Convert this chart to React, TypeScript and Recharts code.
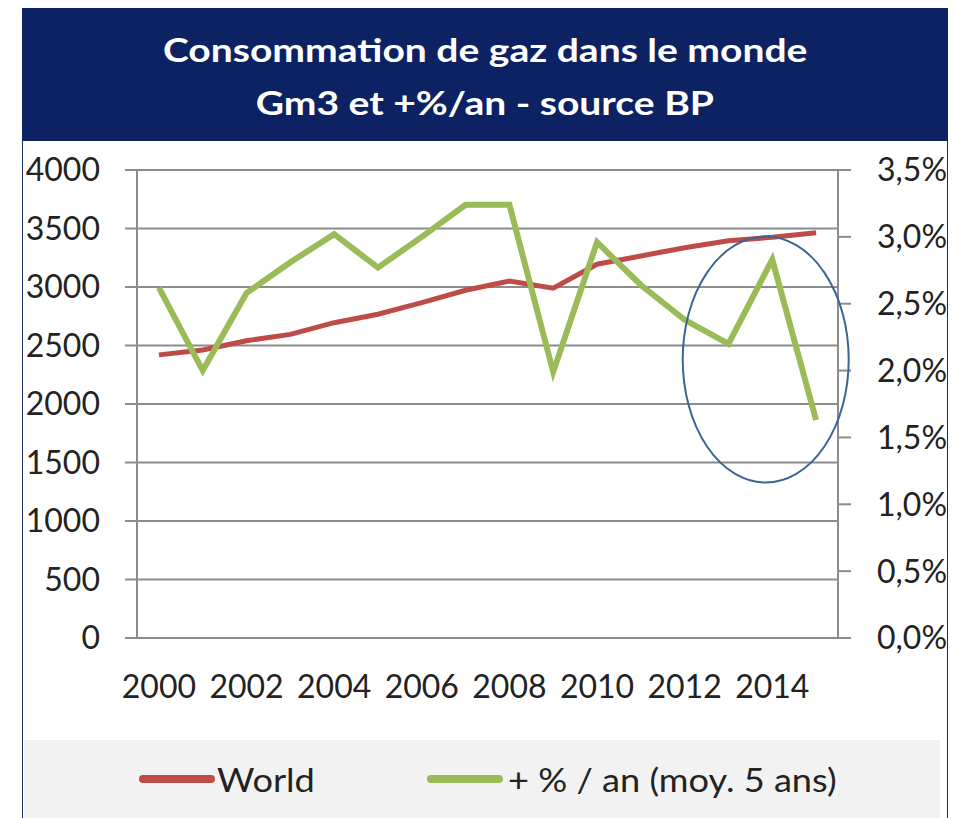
import React from 'react';
import { LineChart, Line, XAxis, YAxis, CartesianGrid, Legend, ReferenceDot } from 'recharts';

const years = ['2000','2001','2002','2003','2004','2005','2006','2007','2008','2009','2010','2011','2012','2013','2014','2015'];
const world = [2420, 2462, 2541, 2595, 2695, 2767, 2866, 2972, 3050, 2990, 3195, 3265, 3336, 3396, 3425, 3464];
const growth = [2.62, 2.0, 2.58, 2.81, 3.02, 2.77, 3.0, 3.24, 3.24, 1.99, 2.96, 2.64, 2.38, 2.2, 2.83, 1.63];
const leftTicks = [0, 500, 1000, 1500, 2000, 2500, 3000, 3500, 4000];
const rightTicks = [0, 0.5, 1, 1.5, 2, 2.5, 3, 3.5];
const labelIdx = [0, 2, 4, 6, 8, 10, 12, 14];
const title1 = 'Consommation de gaz dans le monde';
const title2 = 'Gm3 et +%/an - source BP';
const seriesOrder = ['world', 'growth'];
const seriesNames: Record<string, string> = { world: 'World', growth: '+ % / an (moy. 5 ans)' };

const rows = years.map((y, i) => ({ idx: i, year: y, world: world[i], growth: growth[i] }));
const boundaryTicks = years.map((_, i) => i - 0.5).concat([years.length - 0.5]);

const FONT = 'Lato, "Open Sans", sans-serif';
const GRID = '#8c8c8c';
const TEXT = '#222222';

const renderLegend = (props: any) => {
  const payload = [...(props.payload || [])].sort(
    (a: any, b: any) => seriesOrder.indexOf(a.dataKey) - seriesOrder.indexOf(b.dataKey)
  );
  return (
    <div style={{ display: 'flex', alignItems: 'center', height: 78, paddingLeft: 115, fontFamily: FONT, fontSize: 32, color: TEXT, whiteSpace: 'nowrap' }}>
      {payload.map((p: any, i: number) => (
        <div key={i} style={{ display: 'flex', alignItems: 'center', width: i === 0 ? 288 : 480, flexShrink: 0 }}>
          <div style={{ width: 76, height: 8, borderRadius: 4, background: p.color, marginRight: i === 0 ? 2 : 5 }} />
          <span style={{ display: 'inline-block', transform: 'scaleX(1.13)', transformOrigin: 'left center' }}>{p.value}</span>
        </div>
      ))}
    </div>
  );
};

const titleLine = (t: string) => (
  <div style={{ height: 53, lineHeight: '53px' }}>
    <span style={{ display: 'inline-block', transform: 'scaleX(1.22)', transformOrigin: 'center' }}>{t}</span>
  </div>
);

export default function App() {
  return (
    <div style={{ position: 'absolute', left: 0, top: 0, width: 957, height: 818, background: '#ffffff', overflow: 'hidden' }}>
      <div style={{ position: 'absolute', left: 22, top: 8, width: 926, height: 820, border: '1.5px solid #1c2f66', boxSizing: 'border-box' }} />
      <div style={{ position: 'absolute', left: 22, top: 8, width: 926, height: 133, background: '#0c2262', color: '#ffffff', fontFamily: FONT, fontWeight: 700, fontSize: 32, textAlign: 'center', paddingTop: 15, boxSizing: 'border-box' }}>
        {titleLine(title1)}
        {titleLine(title2)}
      </div>
      <div style={{ position: 'absolute', left: 0, top: 0 }}>
        <LineChart width={957} height={818} data={rows} margin={{ top: 170, right: 0, bottom: 0, left: 0 }}>
          <CartesianGrid xAxisId="marks" yAxisId="left" vertical={false} stroke={GRID} strokeWidth={2} />
          <XAxis xAxisId="marks" dataKey="idx" type="number" domain={[-0.5, years.length - 0.5]} ticks={boundaryTicks} tick={false} tickSize={12} height={0} axisLine={{ stroke: GRID, strokeWidth: 2 }} tickLine={{ stroke: GRID, strokeWidth: 2 }} />
          <XAxis xAxisId="labels" dataKey="idx" type="number" domain={[-0.5, years.length - 0.5]} ticks={labelIdx} tickFormatter={(v: number) => years[v]} height={102} tickSize={0} tickMargin={37} axisLine={false} tickLine={false} interval={0} tick={{ fill: TEXT, fontSize: 32, fontFamily: FONT }} />
          <YAxis yAxisId="left" orientation="left" width={137} domain={[0, 4000]} ticks={leftTicks} tickSize={12} tickMargin={25} axisLine={{ stroke: GRID, strokeWidth: 2 }} tickLine={{ stroke: GRID, strokeWidth: 2 }} tick={{ fill: TEXT, fontSize: 32, fontFamily: FONT }} interval={0} />
          <YAxis yAxisId="right" orientation="right" width={119} domain={[0, 3.5]} ticks={rightTicks} tickSize={13} tickMargin={26} axisLine={{ stroke: GRID, strokeWidth: 2 }} tickLine={{ stroke: GRID, strokeWidth: 2 }} tick={{ fill: TEXT, fontSize: 32, fontFamily: FONT }} interval={0} tickFormatter={(v: number) => v.toFixed(1).replace('.', ',') + '%'} />
          <Legend verticalAlign="bottom" content={renderLegend} wrapperStyle={{ position: 'absolute', left: 24, top: 740, width: 916, height: 78, background: '#f2f2f2' }} />
          <Line xAxisId="marks" yAxisId="left" type="linear" dataKey="world" name={seriesNames.world} stroke="#be4b48" strokeWidth={5} dot={false} isAnimationActive={false} />
          <Line xAxisId="marks" yAxisId="right" type="linear" dataKey="growth" name={seriesNames.growth} stroke="#9bbb59" strokeWidth={6} dot={false} isAnimationActive={false} />
          <ReferenceDot xAxisId="marks" yAxisId="left" x={13.85} y={2380} r={0} shape={(p: any) => <ellipse cx={p.cx} cy={p.cy} rx={83} ry={123} fill="none" stroke="#3b6596" strokeWidth={2} />} />
        </LineChart>
      </div>
    </div>
  );
}
